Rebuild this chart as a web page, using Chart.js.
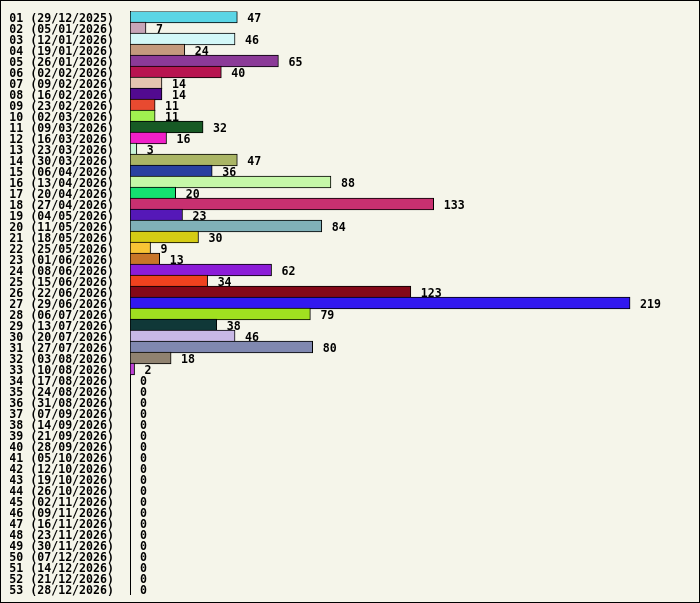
<!DOCTYPE html>
<html>
<head>
<meta charset="utf-8">
<script src="https://cdn.jsdelivr.net/npm/chart.js@4/dist/chart.umd.min.js"></script>
<style>
  html, body { margin: 0; padding: 0; background: #f5f5ea; }
  #wrap { width: 700px; height: 603px; }
</style>
</head>
<body>
<div id="wrap"><canvas id="grafico" width="700" height="603"></canvas></div>
<script>
const semanas = [
  "01 (29/12/2025)", "02 (05/01/2026)", "03 (12/01/2026)", "04 (19/01/2026)",
  "05 (26/01/2026)", "06 (02/02/2026)", "07 (09/02/2026)", "08 (16/02/2026)",
  "09 (23/02/2026)", "10 (02/03/2026)", "11 (09/03/2026)", "12 (16/03/2026)",
  "13 (23/03/2026)", "14 (30/03/2026)", "15 (06/04/2026)", "16 (13/04/2026)",
  "17 (20/04/2026)", "18 (27/04/2026)", "19 (04/05/2026)", "20 (11/05/2026)",
  "21 (18/05/2026)", "22 (25/05/2026)", "23 (01/06/2026)", "24 (08/06/2026)",
  "25 (15/06/2026)", "26 (22/06/2026)", "27 (29/06/2026)", "28 (06/07/2026)",
  "29 (13/07/2026)", "30 (20/07/2026)", "31 (27/07/2026)", "32 (03/08/2026)",
  "33 (10/08/2026)", "34 (17/08/2026)", "35 (24/08/2026)", "36 (31/08/2026)",
  "37 (07/09/2026)", "38 (14/09/2026)", "39 (21/09/2026)", "40 (28/09/2026)",
  "41 (05/10/2026)", "42 (12/10/2026)", "43 (19/10/2026)", "44 (26/10/2026)",
  "45 (02/11/2026)", "46 (09/11/2026)", "47 (16/11/2026)", "48 (23/11/2026)",
  "49 (30/11/2026)", "50 (07/12/2026)", "51 (14/12/2026)", "52 (21/12/2026)",
  "53 (28/12/2026)"
];

const valores = [
  47, 7, 46, 24, 65, 40, 14, 14, 11, 11, 32, 16, 3, 47, 36, 88, 20, 133, 23, 84,
  30, 9, 13, 62, 34, 123, 219, 79, 38, 46, 80, 18, 2,
  0, 0, 0, 0, 0, 0, 0, 0, 0, 0, 0, 0, 0, 0, 0, 0, 0, 0, 0, 0
];

const colores = [
  "#5bd5e5", "#c6a5b8", "#d3f8f8", "#c49a7e", "#8b3a98", "#b81450", "#e5c5b0", "#520a90",
  "#e84a30", "#a0f050", "#175a25", "#f020c8", "#c8f5d8", "#aab565", "#2840a0", "#c5f8a8",
  "#15e070", "#c83070", "#5518b8", "#80b0b8", "#d5cc15", "#f8c435", "#c87528", "#8c1cd8",
  "#f0421e", "#840818", "#3218f0", "#a0e020", "#103838", "#c8b8e5", "#8088b0", "#908270",
  "#c040d8"
];

const fuente = { family: "'DejaVu Sans Mono', monospace", size: 11.6, weight: "bold" };

const fondo = {
  id: "fondo",
  beforeDraw(chart) {
    const ctx = chart.ctx;
    ctx.save();
    ctx.fillStyle = "#f5f5ea";
    ctx.fillRect(0, 0, chart.width, chart.height);
    ctx.strokeStyle = "#000";
    ctx.lineWidth = 1;
    ctx.strokeRect(0.5, 0.5, chart.width - 1, chart.height - 1);
    ctx.restore();
  }
};

const etiquetas = {
  id: "etiquetas",
  afterDatasetsDraw(chart) {
    const ctx = chart.ctx;
    const meta = chart.getDatasetMeta(0);
    ctx.save();
    ctx.font = `${fuente.weight} ${fuente.size}px ${fuente.family}`;
    ctx.fillStyle = "#000";
    ctx.textAlign = "left";
    ctx.textBaseline = "middle";
    meta.data.forEach((bar, i) => {
      ctx.fillText(String(valores[i]), bar.x + 10, bar.y + 1.5);
    });
    ctx.restore();
  }
};

new Chart(document.getElementById("grafico"), {
  type: "bar",
  data: {
    labels: semanas,
    datasets: [{
      data: valores,
      backgroundColor: semanas.map((s, i) => colores[i] || "#cccccc"),
      borderColor: "#000",
      borderWidth: 1,
      borderSkipped: false,
      barThickness: 12
    }]
  },
  options: {
    indexAxis: "y",
    responsive: false,
    animation: false,
    layout: { padding: { left: 10, right: 22, top: 11.5, bottom: 8.5 } },
    plugins: { legend: { display: false }, tooltip: { enabled: false } },
    scales: {
      x: { display: false, min: 0, max: 240 },
      y: {
        grid: { display: false },
        border: { display: true, color: "#000", width: 1 },
        afterFit(scale) {
          scale.width = 120;
          scale.paddingTop = 0;
          scale.paddingBottom = 0;
        },
        ticks: {
          autoSkip: false,
          color: "#000",
          padding: 8,
          labelOffset: 1.5,
          font: fuente
        }
      }
    }
  },
  plugins: [fondo, etiquetas]
});
</script>
</body>
</html>
